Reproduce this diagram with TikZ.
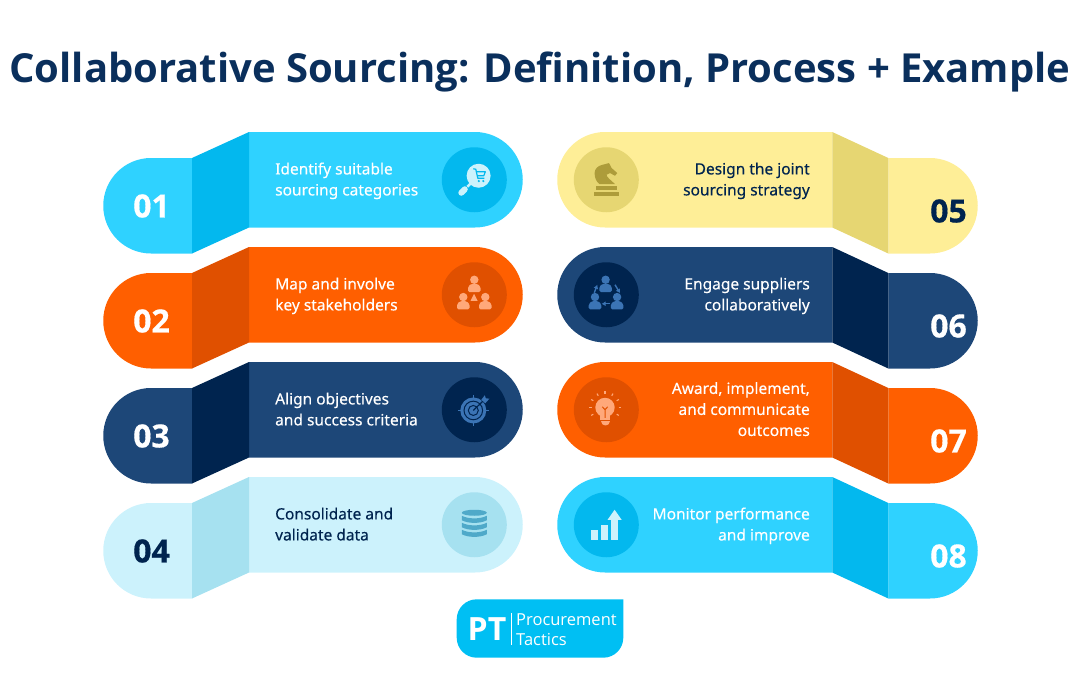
\documentclass[tikz,border=0pt]{standalone}
\usepackage{fontspec}
\usetikzlibrary{arrows.meta}
\setmainfont{Noto Sans}
\newfontfamily\headfont{Open Sans}
\newfontfamily\rowfont{Noto Sans}[FakeBold=0.25]
\newfontfamily\numfont{Open Sans}[BoldFeatures={FakeBold=0.4}]
\definecolor{skyc}{HTML}{2FD2FF}
\definecolor{skyd}{HTML}{03B8EE}
\definecolor{orangec}{HTML}{FF5F00}
\definecolor{oranged}{HTML}{E05000}
\definecolor{navyc}{HTML}{1D4778}
\definecolor{navyd}{HTML}{00244F}
\definecolor{titlec}{HTML}{0A2F5C}
\definecolor{palec}{HTML}{CCF2FC}
\definecolor{paled}{HTML}{A6E1F0}
\definecolor{yelc}{HTML}{FEEE97}
\definecolor{yeld}{HTML}{E6D672}
\definecolor{yeli}{HTML}{AD9C3A}
\definecolor{dbi}{HTML}{4FA9C9}
\definecolor{navyi}{HTML}{3B74B5}
\definecolor{orangei}{HTML}{FFA87A}
\definecolor{logoc}{HTML}{00BFF3}
\tikzset{
  numtext/.style={font=\numfont\bfseries\fontsize{32}{32}\selectfont,inner sep=0pt},
  rowtext/.style={font=\rowfont\fontsize{15.5}{21}\selectfont,inner sep=0pt,text depth=4pt},
}
% one row: y offset, main, dark, number, text colour, text
\newcommand{\leftrow}[6]{
  \begin{scope}[shift={(0,#1)}]
    \fill[#2] (192,26) -- (151,26) arc[start angle=90,end angle=270,radius=47.75pt] -- (192,121.5) -- cycle;
    \fill[#2] (249,0) -- (475,0) arc[start angle=90,end angle=-90,radius=47.75pt] -- (249,95.5) -- cycle;
    \fill[#3] (192,26) -- (249,0) -- (249,95.5) -- (192,121.5) -- cycle;
    \coordinate (ic#4) at (474.3,47.75);
    \fill[#3] (ic#4) circle [radius=32.5pt];
    \node[numtext,text=#5] (num#4) at (151.5,74) {#4};
    \node[rowtext,text=#5,anchor=west,align=left] (txt#4) at (275,49) {#6};
  \end{scope}
}
\newcommand{\rightrow}[6]{
  \begin{scope}[shift={(0,#1)}]
    \fill[#2] (888.3,26) -- (930,26) arc[start angle=90,end angle=-90,radius=47.75pt] -- (888.3,121.5) -- cycle;
    \fill[#2] (832.3,0) -- (605,0) arc[start angle=90,end angle=270,radius=47.75pt] -- (832.3,95.5) -- cycle;
    \fill[#3] (832.3,0) -- (888.3,26) -- (888.3,121.5) -- (832.3,95.5) -- cycle;
    \coordinate (ic#4) at (606.3,47.75);
    \fill[#3] (ic#4) circle [radius=32.5pt];
    \node[numtext,text=#5] (num#4) at (948.5,79) {#4};
    \node[rowtext,text=#5,anchor=east,align=right] (txt#4) at (810,49) {#6};
  \end{scope}
}
% small person: x, y of head, colour
\newcommand{\person}[3]{
  \fill[#3] (#1,#2) circle [radius=4.2pt];
  \fill[#3,rounded corners=1.5pt] (#1-6.3,#2+12.3) -- (#1-6.3,#2+7) -- (#1-3,#2+4) -- (#1+3,#2+4) -- (#1+6.3,#2+7) -- (#1+6.3,#2+12.3) -- cycle;
}
\begin{document}
\begin{tikzpicture}[x=1pt,y=-1pt]
  \useasboundingbox (0,0) rectangle (1080,675);
  \node[font=\headfont\bfseries\fontsize{40}{40}\selectfont,text=titlec,inner sep=0pt] (title) at (540,71.5) {Collaborative Sourcing: Definition, Process + Example};

  \leftrow{132}{skyc}{skyd}{01}{white}{Identify suitable\\sourcing categories}
  \leftrow{247}{orangec}{oranged}{02}{white}{Map and involve\\key stakeholders}
  \leftrow{362}{navyc}{navyd}{03}{white}{Align objectives\\and success criteria}
  \leftrow{477}{palec}{paled}{04}{navyd}{Consolidate and\\validate data}
  \rightrow{132}{yelc}{yeld}{05}{navyd}{Design the joint\\sourcing strategy}
  \rightrow{247}{navyc}{navyd}{06}{white}{Engage suppliers\\collaboratively}
  \rightrow{362}{orangec}{oranged}{07}{white}{Award, implement,\\and communicate\\outcomes}
  \rightrow{477}{skyc}{skyd}{08}{white}{Monitor performance\\and improve}

  \begin{scope}[shift={(ic01)}]
    \fill[palec] (4.3,-4) circle [radius=12pt];
    \draw[palec,line width=2.5pt] (-3,3) -- (-7,7);
    \draw[palec,line width=6pt,line cap=round] (-9.5,9.5) -- (-13,13);
    \draw[skyd,line width=1.2pt,line join=round] (-1,-11) -- (1.5,-10.5) -- (3.5,-1.5) -- (10,-1.5);
    \draw[skyd,line width=1.2pt,line join=round] (2,-8) -- (11,-8) -- (9.5,-4) -- (3,-4);
    \fill[skyd] (4.5,1.3) circle [radius=1.2pt];
    \fill[skyd] (9,1.3) circle [radius=1.2pt];
  \end{scope}

  \begin{scope}[shift={(ic02)}]
    \person{0}{-15}{orangei}
    \person{-11}{2.3}{orangei}
    \person{11}{2.3}{orangei}
    \fill[orangei] (-0.3,-1) -- (3.3,6) -- (-3.8,6) -- cycle;
  \end{scope}

  \begin{scope}[shift={(ic03)}]
    \draw[navyi,line width=1.2pt] (-1,-15) -- (-1,16);
    \draw[navyi,line width=1.2pt] (-16.5,0.7) -- (14.5,0.7);
    \fill[navyi] (-1,0.7) circle [radius=13pt];
    \draw[navyd,line width=1pt] (-1,0.7) circle [radius=9.3pt];
    \draw[navyd,line width=1pt] (-1,0.7) circle [radius=5pt];
    \draw[navyd,line width=1.2pt] (-1,0.7) -- (10,-10);
    \fill[navyi] (7,-10) -- (10.5,-14.5) -- (11.5,-11.5) -- (15,-11) -- (11,-6.5) -- cycle;
  \end{scope}

  \begin{scope}[shift={(ic04)}]
    \fill[dbi] (0,-12) ellipse [x radius=12.5pt,y radius=3pt];
    \foreach \yy in {-9,-2,5} {
      \fill[dbi] (-12.5,\yy) -- (-12.5,\yy+4.5) .. controls (-6,\yy+8) and (6,\yy+8) .. (12.5,\yy+4.5) -- (12.5,\yy) .. controls (6,\yy+3.5) and (-6,\yy+3.5) .. (-12.5,\yy) -- cycle;
    }
  \end{scope}

  \begin{scope}[shift={(ic05)}]
    \fill[yeli] (-10.3,6.7) rectangle (10.3,10);
    \fill[yeli] (-12.3,12.3) rectangle (12.7,16.7);
    \fill[yeli] (-7,4.3) .. controls (-10,2) and (-11.7,-2) .. (-11.7,-6.7) .. controls (-11.7,-11) and (-8,-14) .. (-4.7,-14.7) -- (2.7,-16.7) -- (5.3,-11.7) -- (11,-6.7) -- (8.7,-4) -- (3.7,-6.7) -- (0.3,-5) .. controls (0,-3) and (4,0) .. (8.7,4.3) -- cycle;
  \end{scope}

  \begin{scope}[shift={(ic06)}]
    \person{-0.7}{-15}{navyi}
    \person{-11.3}{2.3}{navyi}
    \person{10.8}{2.3}{navyi}
    \draw[navyi,line width=1.4pt,-{Latex[length=4pt,width=5pt]}] (-12,-2) -- (-9,-10);
    \draw[navyi,line width=1.4pt,-{Latex[length=4pt,width=5pt]}] (8.7,-10) -- (13.7,-1.7);
    \draw[navyi,line width=1.4pt,-{Latex[length=4pt,width=5pt]}] (3.7,9) -- (-4.7,9);
  \end{scope}

  \begin{scope}[shift={(ic07)}]
    \fill[orangei] (-1.3,-2.3) circle [radius=9.7pt];
    \fill[orangei] (-6,5) -- (3.4,5) -- (3.4,10) -- (-6,10) -- cycle;
    \fill[orangei] (-5.7,11) -- (3.7,11) .. controls (3.7,17) and (-5.7,17) .. (-5.7,11) -- cycle;
    \draw[oranged,line width=1pt] (-1.3,8) -- (-1.3,0) (-4,-3) -- (-1.3,0) -- (1.4,-3);
    \foreach \ang in {-30,0,30,60,90,120,150,180,210} {
      \draw[orangei,line width=1.1pt] ([shift={(\ang:13.5pt)}]-1.3,-2.3) -- ([shift={(\ang:16pt)}]-1.3,-2.3);
    }
  \end{scope}

  \begin{scope}[shift={(ic08)}]
    \fill[palec] (-15.7,5) rectangle (-8,15);
    \fill[palec] (-5.7,0.7) rectangle (2,15);
    \fill[palec] (4.3,-5) rectangle (12,15);
    \fill[palec] (1.3,-5) -- (8.3,-15) -- (15.3,-5) -- cycle;
  \end{scope}

  \fill[logoc] (623.3,599.3) -- (476.7,599.3) arc[start angle=90,end angle=180,radius=20pt] -- (456.7,637.7) arc[start angle=180,end angle=270,radius=20pt] -- (603.3,657.7) arc[start angle=270,end angle=360,radius=20pt] -- cycle;
  \node[font=\headfont\bfseries\fontsize{32}{32}\selectfont,text=white,inner sep=0pt] (logopt) at (487,629) {PT};
  \coordinate (sepa) at (511.3,613);
  \coordinate (sepb) at (511.3,645);
  \draw[white,line width=0.7pt] (sepa) -- (sepb);
  \node[font=\headfont\fontsize{16.5}{20.5}\selectfont,text=white,inner sep=0pt,anchor=west,align=left] (logotxt) at (516,629.5) {Procurement\\Tactics};
\end{tikzpicture}
\end{document}
